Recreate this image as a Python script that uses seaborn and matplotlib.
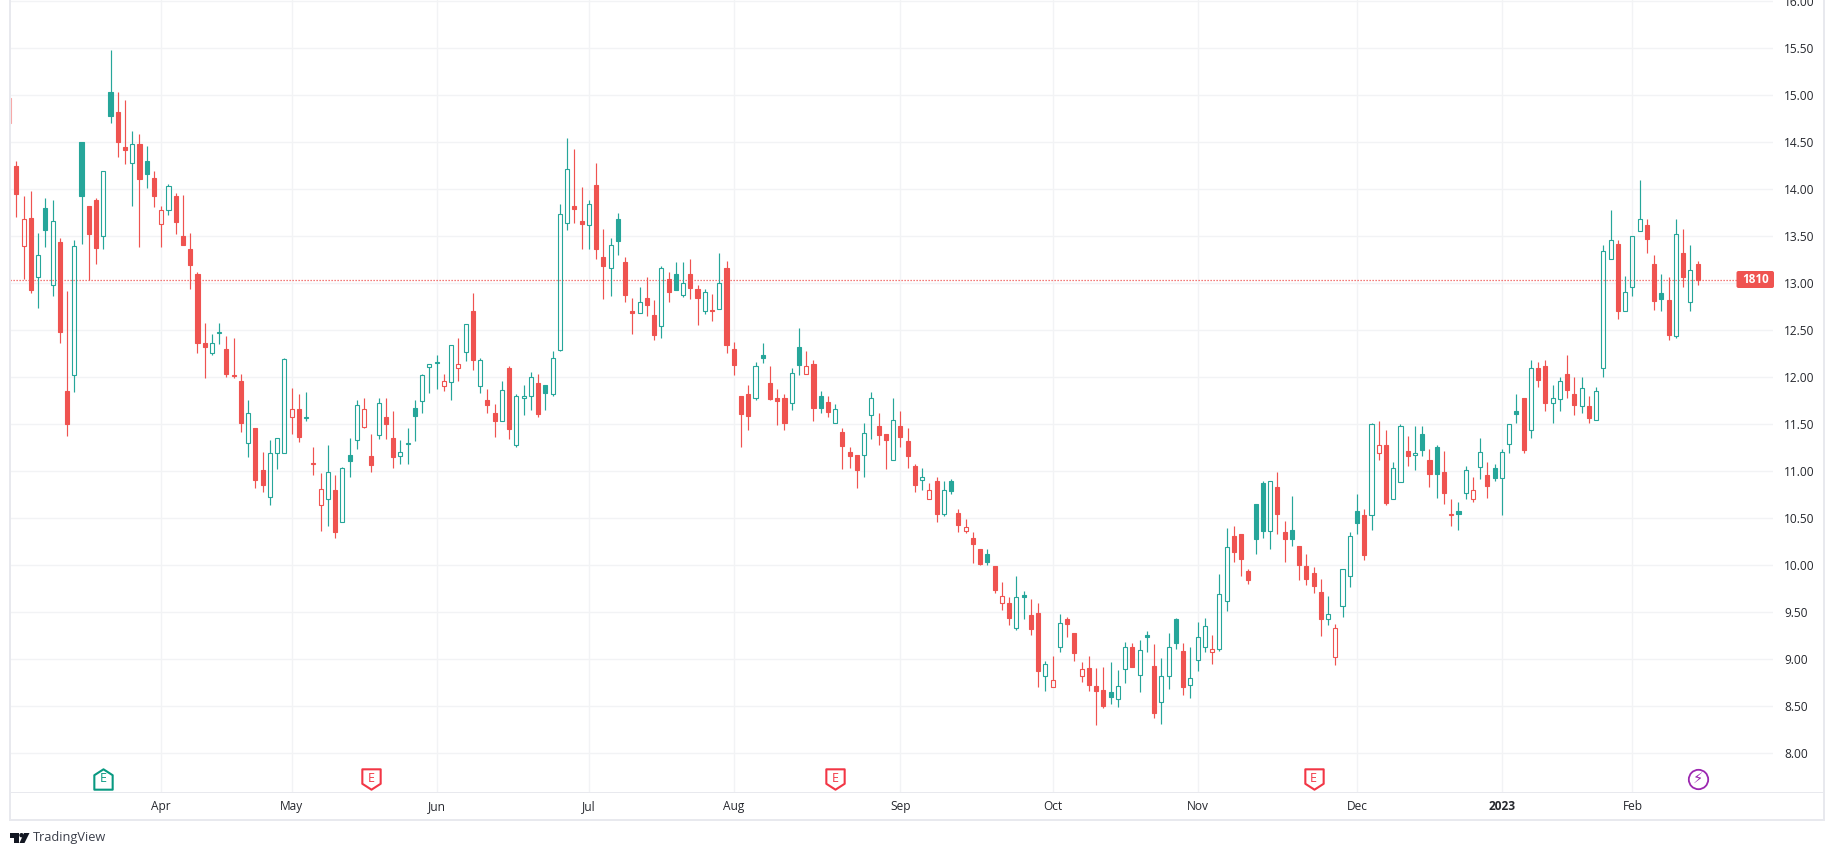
import numpy as np
import pandas as pd
import seaborn as sns
import matplotlib.pyplot as plt
from matplotlib.patches import Rectangle, Polygon, FancyBboxPatch, Circle
from matplotlib.path import Path

# --- DATA (1810.HK daily) ---
# first bar sits half outside the left edge
highs = [14.97,
    14.30, 13.93, 13.98, 13.54, 13.91, 13.89, 13.48, 12.92, 13.46, 14.50,
    13.82, 13.91, 14.20, 15.48, 15.03, 14.95, 14.62, 14.59, 14.46, 14.20,
    13.82, 14.06, 13.96, 13.94, 13.54, 13.12, 12.58, 12.46, 12.58, 12.44,
    12.42, 12.03, 11.76, 11.46, 11.21, 11.33, 11.35, 12.21, 11.89, 11.82,
    11.84, 11.26, 10.98, 11.28, 10.96, 11.05, 11.35, 11.76, 11.78, 11.40,
    11.78, 11.78, 11.64, 11.33, 11.46, 11.76, 12.03, 12.14, 12.24, 12.03,
    12.34, 12.42, 12.57, 12.90, 12.21, 11.88, 11.72, 11.96, 12.12, 11.82,
    11.92, 12.06, 12.04, 11.92, 12.28, 13.84, 14.55, 14.43, 14.02, 13.89,
    14.28, 13.58, 13.48, 13.75, 13.28, 12.84, 12.96, 13.07, 12.82, 13.18,
    13.12, 13.23, 13.23, 13.26, 12.98, 12.94, 12.89, 13.32, 13.24, 12.38,
    11.80, 11.92, 12.16, 12.37, 12.12, 11.88, 11.82, 12.10, 12.52, 12.28,
    12.18, 11.85, 11.80, 11.72, 11.46, 11.26, 11.17, 11.51, 11.84, 11.62,
    11.40, 11.78, 11.64, 11.46, 11.08, 11.04, 10.88, 10.94, 10.90, 10.92,
    10.60, 10.49, 10.35, 10.17, 10.17, 9.99, 9.82, 9.66, 9.89, 9.73,
    9.64, 9.60, 8.98, 9.04, 9.48, 9.45, 9.28, 8.97, 9.04, 8.91,
    8.92, 8.97, 8.89, 9.18, 9.17, 9.20, 9.30, 9.16, 9.01, 9.28,
    9.44, 9.17, 9.13, 9.40, 9.44, 9.26, 9.91, 10.40, 10.42, 10.33,
    9.96, 10.65, 10.90, 10.90, 10.99, 10.47, 10.74, 10.20, 10.12, 9.98,
    9.85, 9.67, 9.38, 9.96, 10.35, 10.76, 10.60, 11.51, 11.54, 11.44,
    11.10, 11.50, 11.38, 11.48, 11.48, 11.24, 11.28, 11.22, 10.70, 10.67,
    11.06, 10.94, 11.35, 11.10, 11.08, 11.24, 11.50, 11.82, 11.78, 12.18,
    12.16, 12.18, 11.92, 12.00, 12.24, 12.00, 12.00, 11.80, 11.90, 13.41,
    13.78, 13.46, 13.08, 13.50, 14.10, 13.68, 13.30, 13.10, 13.07, 13.68,
    13.58, 13.41, 13.24]
body_tops = [14.97,
    14.25, 13.68, 13.70, 13.30, 13.80, 13.66, 13.44, 11.85, 13.40, 14.50,
    13.82, 13.89, 14.20, 15.04, 14.82, 14.45, 14.48, 14.48, 14.30, 14.12,
    13.78, 14.04, 13.93, 13.50, 13.36, 13.10, 12.37, 12.36, 12.48, 12.30,
    12.02, 11.96, 11.62, 11.46, 11.01, 11.19, 11.35, 12.19, 11.66, 11.66,
    11.58, 11.09, 10.81, 10.99, 10.80, 11.03, 11.17, 11.71, 11.66, 11.16,
    11.73, 11.58, 11.35, 11.21, 11.30, 11.67, 12.02, 12.14, 12.16, 11.96,
    12.34, 12.14, 12.57, 12.71, 12.18, 11.76, 11.62, 11.87, 12.10, 11.80,
    11.80, 12.00, 11.94, 11.92, 12.21, 13.74, 14.22, 13.82, 13.66, 13.84,
    14.05, 13.28, 13.41, 13.68, 13.23, 12.71, 12.80, 12.84, 12.66, 13.16,
    13.05, 13.10, 13.00, 13.10, 12.94, 12.91, 12.72, 13.00, 13.16, 12.30,
    11.80, 11.82, 12.12, 12.24, 11.94, 11.78, 11.78, 12.05, 12.32, 12.12,
    12.14, 11.80, 11.74, 11.66, 11.42, 11.20, 11.17, 11.41, 11.78, 11.48,
    11.40, 11.55, 11.48, 11.32, 11.06, 10.94, 10.80, 10.90, 10.80, 10.90,
    10.56, 10.41, 10.29, 10.17, 10.12, 9.99, 9.67, 9.60, 9.66, 9.68,
    9.47, 9.49, 8.95, 8.78, 9.39, 9.43, 9.28, 8.90, 8.91, 8.72,
    8.67, 8.65, 8.72, 9.13, 9.13, 9.10, 9.26, 8.93, 8.82, 9.13,
    9.43, 9.09, 8.80, 9.24, 9.35, 9.11, 9.69, 10.19, 10.31, 10.33,
    9.94, 10.65, 10.88, 10.90, 10.83, 10.35, 10.38, 10.20, 9.99, 9.92,
    9.72, 9.48, 9.33, 9.96, 10.31, 10.58, 10.54, 11.50, 11.28, 11.28,
    11.03, 11.48, 11.22, 11.19, 11.40, 11.12, 11.26, 10.99, 10.55, 10.58,
    11.01, 10.80, 11.21, 10.96, 11.04, 11.21, 11.50, 11.64, 11.78, 12.10,
    12.10, 12.12, 11.78, 11.96, 12.04, 11.82, 11.89, 11.69, 11.85, 13.34,
    13.46, 13.42, 12.91, 13.50, 13.68, 13.62, 13.21, 12.90, 12.82, 13.52,
    13.32, 13.14, 13.21]
body_bottoms = [14.71,
    13.95, 13.40, 12.93, 13.07, 13.57, 12.98, 12.48, 11.50, 12.02, 13.93,
    13.52, 13.38, 13.50, 14.78, 14.50, 14.42, 14.28, 14.11, 14.16, 13.93,
    13.63, 13.78, 13.65, 13.41, 13.20, 12.36, 12.32, 12.26, 12.47, 12.03,
    12.01, 11.51, 11.30, 10.91, 10.85, 10.73, 11.19, 11.19, 11.58, 11.37,
    11.57, 11.08, 10.64, 10.71, 10.35, 10.46, 11.11, 11.33, 11.47, 11.07,
    11.39, 11.50, 11.15, 11.16, 11.29, 11.59, 11.75, 12.11, 12.15, 11.91,
    11.95, 12.10, 12.27, 12.18, 11.91, 11.71, 11.53, 11.53, 11.45, 11.28,
    11.78, 11.80, 11.61, 11.83, 11.82, 12.29, 13.64, 13.79, 13.63, 13.62,
    13.36, 13.18, 13.16, 13.45, 12.88, 12.68, 12.68, 12.77, 12.45, 12.55,
    12.91, 12.93, 12.88, 12.95, 12.84, 12.71, 12.70, 12.73, 12.34, 12.13,
    11.61, 11.59, 11.78, 12.21, 11.77, 11.75, 11.51, 11.73, 12.13, 12.03,
    11.67, 11.67, 11.63, 11.51, 11.27, 11.16, 11.01, 11.17, 11.60, 11.39,
    11.33, 11.12, 11.37, 11.16, 10.85, 10.91, 10.71, 10.55, 10.55, 10.79,
    10.43, 10.37, 10.23, 10.01, 10.03, 9.74, 9.60, 9.44, 9.33, 9.66,
    9.32, 8.87, 8.82, 8.70, 9.13, 9.38, 9.07, 8.82, 8.73, 8.66,
    8.50, 8.60, 8.58, 8.90, 8.92, 8.83, 9.24, 8.43, 8.55, 8.82,
    9.17, 8.71, 8.73, 8.99, 9.13, 9.08, 9.11, 9.62, 10.14, 10.07,
    9.84, 10.28, 10.37, 10.37, 10.55, 10.28, 10.28, 10.00, 9.85, 9.78,
    9.43, 9.43, 9.02, 9.57, 9.89, 10.45, 10.11, 10.53, 11.19, 10.66,
    10.71, 10.89, 11.16, 11.17, 11.23, 10.97, 10.97, 10.77, 10.53, 10.55,
    10.77, 10.71, 11.05, 10.84, 10.93, 10.93, 11.29, 11.61, 11.23, 11.44,
    11.97, 11.73, 11.73, 11.77, 11.87, 11.71, 11.69, 11.57, 11.55, 12.10,
    13.26, 12.70, 12.71, 12.96, 13.56, 13.47, 12.81, 12.83, 12.45, 12.44,
    13.07, 12.80, 13.04]
lows = [14.71,
    13.71, 13.05, 12.90, 12.74, 13.39, 12.87, 12.37, 11.38, 11.84, 13.42,
    13.04, 13.21, 13.37, 14.71, 14.34, 14.27, 13.82, 13.39, 14.01, 13.81,
    13.39, 13.73, 13.52, 13.41, 12.94, 12.26, 11.99, 12.24, 12.35, 12.00,
    11.99, 11.42, 11.15, 10.82, 10.78, 10.64, 11.02, 11.19, 11.40, 11.31,
    11.54, 10.96, 10.36, 10.42, 10.29, 10.46, 10.94, 11.24, 11.46, 10.99,
    11.34, 11.34, 11.04, 11.08, 11.08, 11.32, 11.62, 11.83, 11.88, 11.85,
    11.76, 11.96, 12.17, 12.08, 11.83, 11.62, 11.36, 11.53, 11.34, 11.26,
    11.60, 11.65, 11.58, 11.65, 11.80, 12.28, 13.57, 13.64, 13.37, 13.37,
    13.26, 12.83, 12.87, 13.30, 12.80, 12.46, 12.68, 12.65, 12.40, 12.42,
    12.80, 12.93, 12.85, 12.83, 12.56, 12.67, 12.60, 12.73, 12.26, 12.02,
    11.26, 11.44, 11.76, 12.15, 11.76, 11.49, 11.44, 11.65, 12.02, 12.03,
    11.54, 11.62, 11.58, 11.51, 11.02, 11.04, 10.82, 10.94, 11.34, 11.28,
    11.02, 11.12, 11.26, 11.04, 10.78, 10.80, 10.70, 10.46, 10.52, 10.76,
    10.35, 10.34, 10.02, 10.00, 10.00, 9.71, 9.52, 9.37, 9.31, 9.43,
    9.26, 8.71, 8.66, 8.70, 9.08, 9.24, 8.98, 8.76, 8.66, 8.30,
    8.48, 8.52, 8.49, 8.75, 8.92, 8.65, 9.08, 8.38, 8.31, 8.68,
    9.11, 8.62, 8.59, 8.88, 9.08, 8.95, 9.09, 9.51, 10.04, 9.89,
    9.80, 10.12, 10.29, 10.17, 10.33, 10.04, 10.20, 9.84, 9.79, 9.70,
    9.25, 9.37, 8.94, 9.45, 9.77, 10.33, 10.06, 10.38, 11.12, 10.64,
    10.71, 10.89, 11.06, 11.01, 11.16, 10.83, 10.72, 10.65, 10.42, 10.38,
    10.70, 10.67, 10.92, 10.72, 10.90, 10.54, 11.19, 11.51, 11.19, 11.35,
    11.90, 11.64, 11.51, 11.64, 11.78, 11.60, 11.62, 11.51, 11.55, 12.00,
    13.26, 12.62, 12.71, 12.87, 13.56, 13.32, 12.72, 12.71, 12.40, 12.42,
    12.96, 12.71, 12.98]
# R/G filled red/green, r/g hollow red/green, P the cut off bar
kinds = list("P"
    "RrRgGgRRgG" "RRgGRRgRGR" "rgRRRRRggR" "RRgRRgggrR"
    "grrgRgGgrR" "gRRggGgggr" "grgRgRRgRg" "ggRGgggRRg"
    "RRgGRRgRRg" "RGgRRgRgRR" "RRgGRRRgGr" "RGRgRRRggR"
    "RgRRRgrRgG" "RrRRGRrRgG" "RRgrgRRrRR" "RGggRgGRgg"
    "GRgggrggRR" "RGGgRRGRRR" "RgrggGRgrR" "ggRgGRGRrG"
    "grgRGggGRg" "RRggRRgRgg" "gRgggRRGRg" "RgR")

price_ticks = [8.0, 8.5, 9.0, 9.5, 10.0, 10.5, 11.0, 11.5, 12.0, 12.5, 13.0, 13.5, 14.0, 14.5, 15.0, 15.5, 16.0]
month_bars = [20, 38, 58, 79, 99, 122, 143, 163, 185, 205, 223]
month_labels = ["Apr", "May", "Jun", "Jul", "Aug", "Sep", "Oct", "Nov", "Dec", "2023", "Feb"]
last_price = 13.04
last_label = "1810"
earnings_up = [12]
earnings_down = [49, 113, 179]
dividend_bar = [232]
event_price = 7.73

# --- COLOURS ---
GREEN = "#26a69a"
RED = "#ef5350"
GRID = "#f2f3f5"
FRAME = "#e8e9ee"
TEXT = "#26282e"
EARN_GREEN = "#089981"
EARN_RED = "#f23645"
PURPLE = "#9c27b0"
colors = {"R": RED, "r": RED, "G": GREEN, "g": GREEN, "P": "#f7a9a8"}

df = pd.DataFrame({"high": highs, "top": body_tops, "bottom": body_bottoms, "low": lows, "kind": kinds})
df["bar"] = np.arange(len(df)) - 1
df["body"] = df["top"] - df["bottom"]
df["color"] = df["kind"].map(colors)

# --- FIGURE ---
sns.set_theme(style="white")
plt.rcParams["font.family"] = ["Open Sans", "DejaVu Sans"]
W, H = 1834, 855
fig = plt.figure(figsize=(W / 100, H / 100), dpi=100, facecolor="white")
ax = fig.add_axes([10 / W, 1 - 792 / H, (1773 - 10) / W, 792 / H])

# wicks stop at the body, hollow bodies are see through
ax.vlines(df["bar"], df["top"], df["high"], colors=df["color"], linewidth=0.85, zorder=3)
ax.vlines(df["bar"], df["low"], df["bottom"], colors=df["color"], linewidth=0.85, zorder=3)

sns.barplot(data=df, x="bar", y="body", bottom=df["bottom"].values, native_scale=True,
            width=0.56, errorbar=None, color=GREEN, saturation=1, ax=ax, zorder=3)
for patch, kind, color in zip(ax.containers[0], df["kind"], df["color"]):
    patch.set_edgecolor(color)
    patch.set_linewidth(0.8)
    patch.set_facecolor(color if kind in "RGP" else "none")

ax.axhline(last_price, color=RED, linewidth=0.9, linestyle=(0, (1, 1.4)), zorder=2)

# event markers along the bottom
house = Path([(-0.9, -1), (0.9, -1), (0.9, 0.42), (0, 1), (-0.9, 0.42), (-0.9, -1)], closed=True)
shield = Path([(-0.9, 1), (0.9, 1), (0.9, -0.42), (0, -1), (-0.9, -0.42), (-0.9, 1)], closed=True)
sns.scatterplot(x=earnings_up, y=[event_price] * len(earnings_up), marker=house, s=215, color="white",
                edgecolor=EARN_GREEN, linewidth=1.5, ax=ax, zorder=4)
sns.scatterplot(x=earnings_down, y=[event_price] * len(earnings_down), marker=shield, s=215, color="white",
                edgecolor=EARN_RED, linewidth=1.5, ax=ax, zorder=4)
sns.scatterplot(x=dividend_bar, y=[event_price] * len(dividend_bar), marker="o", s=195, color="white",
                edgecolor=PURPLE, linewidth=1.3, ax=ax, zorder=4)
for b in earnings_up:
    ax.text(b, event_price, "E", color=EARN_GREEN, fontsize=9, fontweight="medium", ha="center", va="center", zorder=5)
for b in earnings_down:
    ax.text(b, event_price, "E", color=EARN_RED, fontsize=9, fontweight="medium", ha="center", va="center", zorder=5)
for b in dividend_bar:
    ax.text(b, event_price, "\u26a1", color=PURPLE, fontsize=10.5, ha="center", va="center",
            family="DejaVu Sans", zorder=5)

# --- AXES ---
ax.set_xlim(-0.869, 242.4)
ax.set_ylim(7.588, 16.014)
ax.set_xlabel("")
ax.set_ylabel("")
ax.set_xticks(month_bars, month_labels)
ax.set_yticks(price_ticks, [f"{p:.2f}" for p in price_ticks])
ax.yaxis.tick_right()
ax.grid(True, color=GRID, linewidth=1)
ax.set_axisbelow(True)
ax.tick_params(axis="y", length=0, pad=8, labelsize=8.6, labelcolor=TEXT)
ax.tick_params(axis="x", length=0, pad=5.5, labelsize=8.6, labelcolor=TEXT)
ax.get_xticklabels()[month_labels.index("2023")].set_fontweight("bold")
sns.despine(ax=ax, left=True, right=True, top=True, bottom=True)

# --- FRAME AND BADGES, in pixels ---
over = fig.add_axes([0, 0, 1, 1], facecolor="none", zorder=10)
over.set_xlim(0, W)
over.set_ylim(H, 0)
over.axis("off")
for x, y, w, h in [(8.5, 0, 2.5, 821), (1822.5, 0, 2.5, 821), (8.5, 818.8, 1816.5, 2.2), (10, 791.5, 1813, 1.2)]:
    over.add_patch(Rectangle((x, y), w, h, color=FRAME, linewidth=0))
over.add_patch(FancyBboxPatch((1737.5, 272), 35.5, 15, boxstyle="round,pad=1,rounding_size=2", color=RED, linewidth=0))
over.text(1755.5, 279.5, last_label, color="white", fontsize=8.4, fontweight="bold", ha="center", va="center")

# tradingview logo
over.add_patch(Polygon([(10, 833), (19, 833), (19, 843), (14, 843), (14, 837.5), (10, 837.5)], color="#131722", linewidth=0))
over.add_patch(Circle((21.5, 835.2), 2.2, color="#131722", linewidth=0))
over.add_patch(Polygon([(24, 833), (29.5, 833), (24.5, 843), (19.5, 843)], color="#131722", linewidth=0))
over.text(33, 837.5, "TradingView", color="#3b3f4a", fontsize=9.2, ha="left", va="center")

plt.savefig("out.png", dpi=100)
